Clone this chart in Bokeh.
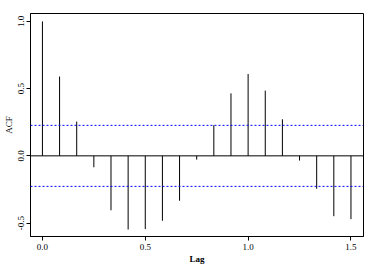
from bokeh.plotting import figure
from bokeh.models import Range1d, FixedTicker, PrintfTickFormatter, Span
from bokeh.embed import file_html
from bokeh.resources import INLINE

lags = [i / 12 for i in range(19)]
acf = [1.0, 0.59, 0.255, -0.085, -0.405, -0.548, -0.545, -0.483, -0.334, -0.028,
       0.228, 0.465, 0.609, 0.485, 0.272, -0.035, -0.245, -0.449, -0.471]
conf = 0.227
x_ticks = [0.0, 0.5, 1.0, 1.5]
y_ticks = [-0.5, 0.0, 0.5, 1.0]

FONT = "Liberation Serif"

p = figure(width=366, height=266, output_backend="svg", toolbar_location=None,
           x_range=Range1d(-0.058, 1.561), y_range=Range1d(-0.6, 1.059),
           min_border_left=29, min_border_top=13, min_border_right=3, min_border_bottom=30)
p.grid.visible = False
p.background_fill_color = "white"
p.border_fill_color = "white"
p.outline_line_color = "black"
p.outline_line_width = 1
p.outline_line_alpha = 1

for ax in (p.xaxis[0], p.yaxis[0]):
    ax.minor_tick_line_color = None
    ax.major_tick_in = 0
    ax.major_tick_out = 4
    ax.axis_line_color = "black"
    ax.major_tick_line_color = "black"
    ax.major_label_text_font = FONT
    ax.major_label_text_font_size = "9px"
    ax.major_label_text_color = "black"
    ax.axis_label_text_font = FONT
    ax.axis_label_text_font_size = "9px"
    ax.axis_label_text_color = "black"
    ax.formatter = PrintfTickFormatter(format="%.1f")

p.xaxis.ticker = FixedTicker(ticks=x_ticks)
p.yaxis.ticker = FixedTicker(ticks=y_ticks)
p.xaxis.axis_label = "Lag"
p.yaxis.axis_label = "ACF"
p.xaxis.axis_label_text_font_style = "bold"
p.yaxis.axis_label_text_font_style = "normal"
p.yaxis.major_label_orientation = "vertical"
p.xaxis.major_label_standoff = 3
p.yaxis.major_label_standoff = 2
p.xaxis.axis_label_standoff = 1
p.yaxis.axis_label_standoff = 2

p.add_layout(Span(location=0, dimension="width", line_color="black", line_width=1))
p.add_layout(Span(location=conf, dimension="width", line_color="blue", line_width=1, line_dash="2 2"))
p.add_layout(Span(location=-conf, dimension="width", line_color="blue", line_width=1, line_dash="2 2"))

p.segment(x0=lags, y0=[0] * len(lags), x1=lags, y1=acf, line_color="black", line_width=1)

open("out.html", "w").write(file_html(p, INLINE))
